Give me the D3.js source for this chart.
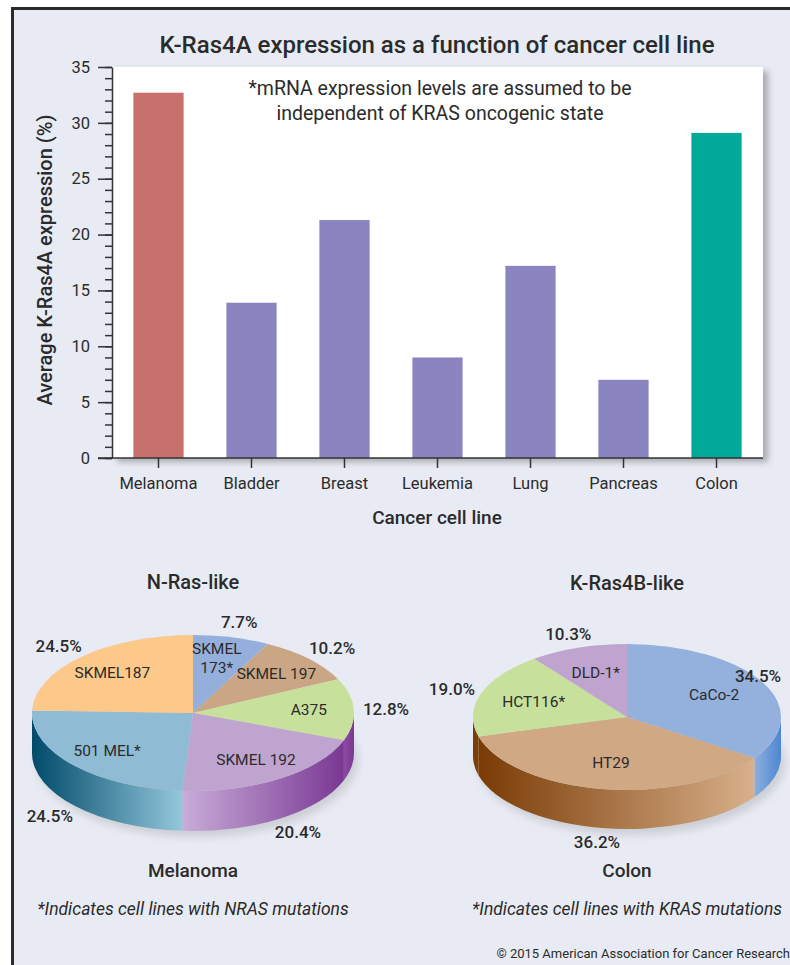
<!DOCTYPE html>
<html>
<head>
<meta charset="utf-8">
<script src="https://cdn.jsdelivr.net/npm/d3@7"></script>
<style>
  body { margin: 0; background: #fff; }
  svg text { font-family: Roboto, "Noto Sans", sans-serif; fill: #2b2b2b; }
</style>
</head>
<body>
<svg id="chart" width="790" height="965"></svg>
<script>
// bar chart data
var barCategories = ["Melanoma", "Bladder", "Breast", "Leukemia", "Lung", "Pancreas", "Colon"];
var barValues = [32.7, 13.9, 21.3, 9.0, 17.2, 7.0, 29.1];
var barColors = ["#c8706c", "#8a84c0", "#8a84c0", "#8a84c0", "#8a84c0", "#8a84c0", "#00a99a"];
var yMajorTicks = [0, 5, 10, 15, 20, 25, 30, 35];

// melanoma pie
var melNames = ["SKMEL\n173*", "SKMEL 197", "A375", "SKMEL 192", "501 MEL*", "SKMEL187"];
var melShares = [7.7, 10.2, 12.8, 20.4, 24.5, 24.5];
var melColors = ["#95afdc", "#cba685", "#c7e09c", "#c0a4d0", "#8fbcd4", "#fcc98b"];
var melSides = [["#7b97c9", "#7b97c9"], ["#a9845f", "#a9845f"], ["#8d4aa0", "#7a3894"],
                ["#c8acd8", "#7a3894"], ["#004a6a", "#94c7db"], ["#e7a95e", "#e7a95e"]];

// colon pie
var colNames = ["CaCo-2", "HT29", "HCT116*", "DLD-1*"];
var colShares = [34.5, 36.2, 19.0, 10.3];
var colColors = ["#94b0dd", "#d1a884", "#c7e09c", "#c0a4d0"];
var colSides = [["#8eaedf", "#4d87d0"], ["#7a3b05", "#d8b08b"], ["#7a3b05", "#7e3f08"], ["#9a7aae", "#9a7aae"]];

var svg = d3.select("#chart");
var defs = svg.append("defs");

// page background and frame
svg.append("rect").attr("x", 12).attr("y", 8).attr("width", 778).attr("height", 957).attr("fill", "#e8ebf3");
svg.append("line").attr("x1", 12.5).attr("y1", 7).attr("x2", 12.5).attr("y2", 965)
  .attr("stroke", "#2b2b2b").attr("stroke-width", 3);
svg.append("line").attr("x1", 11).attr("y1", 8.5).attr("x2", 790).attr("y2", 8.5)
  .attr("stroke", "#2b2b2b").attr("stroke-width", 3);

var shadow = defs.append("filter").attr("id", "shadow")
  .attr("x", "-5%").attr("y", "-5%").attr("width", "115%").attr("height", "115%");
shadow.append("feDropShadow").attr("dx", 5).attr("dy", 4).attr("stdDeviation", 3)
  .attr("flood-color", "#000").attr("flood-opacity", 0.28);
defs.append("filter").attr("id", "blur").append("feGaussianBlur").attr("stdDeviation", 4);

// ---------- bar chart ----------
var x = d3.scaleBand().domain(barCategories).range([112, 763]).paddingInner(0.46).paddingOuter(0.23);
var y = d3.scaleLinear().domain([0, 35]).range([458, 67]);

svg.append("rect")
  .attr("x", x.range()[0]).attr("y", y(35))
  .attr("width", x.range()[1] - x.range()[0]).attr("height", y(0) - y(35))
  .attr("fill", "#fff").attr("filter", "url(#shadow)");

svg.append("text").attr("x", 437).attr("y", 53).attr("text-anchor", "middle")
  .style("font-size", "24px").style("font-weight", 500)
  .text("K-Ras4A expression as a function of cancer cell line");

svg.append("text").attr("x", 440).attr("y", 95).attr("text-anchor", "middle")
  .style("font-size", "19.5px").text("*mRNA expression levels are assumed to be");
svg.append("text").attr("x", 440).attr("y", 120).attr("text-anchor", "middle")
  .style("font-size", "19.5px").text("independent of KRAS oncogenic state");

svg.selectAll("rect.bar").data(barValues).enter().append("rect")
  .attr("class", "bar")
  .attr("x", function(d, i) { return x(barCategories[i]); })
  .attr("y", function(d) { return y(d); })
  .attr("width", x.bandwidth())
  .attr("height", function(d) { return y(0) - y(d); })
  .attr("fill", function(d, i) { return barColors[i]; });

// minor ticks every 1, major every 5
var minorAxis = svg.append("g").attr("transform", "translate(112,0)")
  .call(d3.axisLeft(y).tickValues(d3.range(0, 36)).tickSize(7).tickFormat(""));
minorAxis.select(".domain").remove();

var yAxis = svg.append("g").attr("transform", "translate(112,0)")
  .call(d3.axisLeft(y).tickValues(yMajorTicks).tickSize(14).tickPadding(8).tickSizeOuter(0));

var xAxis = svg.append("g").attr("transform", "translate(0," + y(0) + ")")
  .call(d3.axisBottom(x).tickSize(10).tickPadding(9).tickSizeOuter(0));
xAxis.select(".domain").remove();

svg.append("line")
  .attr("x1", x.range()[0] - 14).attr("x2", x.range()[1])
  .attr("y1", y(0)).attr("y2", y(0))
  .attr("stroke", "#333").attr("stroke-width", 1.6);

svg.selectAll(".tick line, .domain").attr("stroke", "#333").attr("stroke-width", 1.5);
svg.selectAll(".tick text").style("font-size", "16.5px").style("font-family", "Roboto, sans-serif")
  .attr("fill", "#333");

svg.append("text").attr("x", 437).attr("y", 524).attr("text-anchor", "middle")
  .style("font-size", "19px").style("font-weight", 500).text("Cancer cell line");

svg.append("text").attr("transform", "translate(52,260) rotate(-90)").attr("text-anchor", "middle")
  .style("font-size", "20px").style("font-weight", 500).text("Average K-Ras4A expression (%)");

// ---------- 3D pies ----------
function drawPie(id, names, shares, colors, sides, cx, cy, rx, ry, depth, labelR) {
  var arcs = d3.pie().sort(null).value(function(d) { return d; })(shares);
  var g = svg.append("g").attr("transform", "translate(" + cx + "," + cy + ")");

  function pt(a, dy) { return [rx * Math.sin(a), -ry * Math.cos(a) + (dy || 0)]; }

  // soft shadow under the pie
  g.append("ellipse").attr("cx", 4).attr("cy", depth + 6).attr("rx", rx).attr("ry", ry)
    .attr("fill", "#000").attr("opacity", 0.12).attr("filter", "url(#blur)");

  // side walls, front half only
  arcs.forEach(function(a, i) {
    var s = Math.max(a.startAngle, Math.PI / 2);
    var e = Math.min(a.endAngle, 3 * Math.PI / 2);
    if (s >= e) return;
    var p0 = pt(s), p1 = pt(e), p2 = pt(e, depth), p3 = pt(s, depth);
    var gid = id + "side" + i;
    // gradient in the group's local space: left x -> right x
    var grad = defs.append("linearGradient").attr("id", gid).attr("gradientUnits", "userSpaceOnUse")
      .attr("x1", p1[0]).attr("x2", p0[0]).attr("y1", 0).attr("y2", 0);
    grad.append("stop").attr("offset", 0).attr("stop-color", sides[i][0]);
    grad.append("stop").attr("offset", 1).attr("stop-color", sides[i][1]);
    var path = "M" + p0 + " A" + rx + "," + ry + " 0 0 1 " + p1 +
      " L" + p2 + " A" + rx + "," + ry + " 0 0 0 " + p3 + " Z";
    g.append("path").attr("d", path).attr("fill", "url(#" + gid + ")");
  });

  // top face
  g.selectAll("path.top").data(arcs).enter().append("path")
    .attr("class", "top")
    .attr("d", function(a) {
      var p0 = pt(a.startAngle), p1 = pt(a.endAngle);
      var large = (a.endAngle - a.startAngle) > Math.PI ? 1 : 0;
      return "M0,0 L" + p0 + " A" + rx + "," + ry + " 0 " + large + " 1 " + p1 + " Z";
    })
    .attr("fill", function(a, i) { return colors[i]; });

  // name labels inside
  arcs.forEach(function(a, i) {
    var m = (a.startAngle + a.endAngle) / 2;
    var p = [rx * labelR * Math.sin(m), -ry * labelR * Math.cos(m)];
    var lines = names[i].split("\n");
    var t = g.append("text").attr("text-anchor", "middle").style("font-size", "15.5px").attr("fill", "#333");
    lines.forEach(function(l, k) {
      t.append("tspan").attr("x", p[0] - (lines.length > 1 ? 4 : 0))
        .attr("y", p[1] + 5 + (k - (lines.length - 1) / 2) * 19).text(l);
    });
  });

  // percent labels outside
  arcs.forEach(function(a, i) {
    var m = (a.startAngle + a.endAngle) / 2;
    var px = rx * 1.2 * Math.sin(m), py = -ry * 1.2 * Math.cos(m);
    if (Math.cos(m) < 0) py += depth;
    px = Math.min(px, 758 - cx);
    g.append("text").attr("x", px).attr("y", py + 6).attr("text-anchor", "middle")
      .style("font-size", "17px").style("font-weight", 500)
      .text(d3.format(".1f")(shares[i]) + "%");
  });
}

drawPie("mel", melNames, melShares, melColors, melSides, 193, 713, 161, 78, 40, 0.72);
drawPie("col", colNames, colShares, colColors, colSides, 627, 717, 154, 73, 39, 0.64);

svg.append("text").attr("x", 193).attr("y", 589).attr("text-anchor", "middle")
  .style("font-size", "20px").style("font-weight", 500).text("N-Ras-like");
svg.append("text").attr("x", 627).attr("y", 590).attr("text-anchor", "middle")
  .style("font-size", "20px").style("font-weight", 500).text("K-Ras4B-like");

svg.append("text").attr("x", 193).attr("y", 877).attr("text-anchor", "middle")
  .style("font-size", "19px").style("font-weight", 500).text("Melanoma");
svg.append("text").attr("x", 627).attr("y", 877).attr("text-anchor", "middle")
  .style("font-size", "19px").style("font-weight", 500).text("Colon");

svg.append("text").attr("x", 193).attr("y", 915).attr("text-anchor", "middle")
  .style("font-size", "17.5px").style("font-style", "italic").attr("fill", "#333")
  .text("*Indicates cell lines with NRAS mutations");
svg.append("text").attr("x", 627).attr("y", 915).attr("text-anchor", "middle")
  .style("font-size", "17.5px").style("font-style", "italic").attr("fill", "#333")
  .text("*Indicates cell lines with KRAS mutations");

svg.append("text").attr("x", 790).attr("y", 958).attr("text-anchor", "end")
  .style("font-size", "13px").attr("fill", "#333")
  .text("\u00a9 2015 American Association for Cancer Research");
</script>
</body>
</html>
